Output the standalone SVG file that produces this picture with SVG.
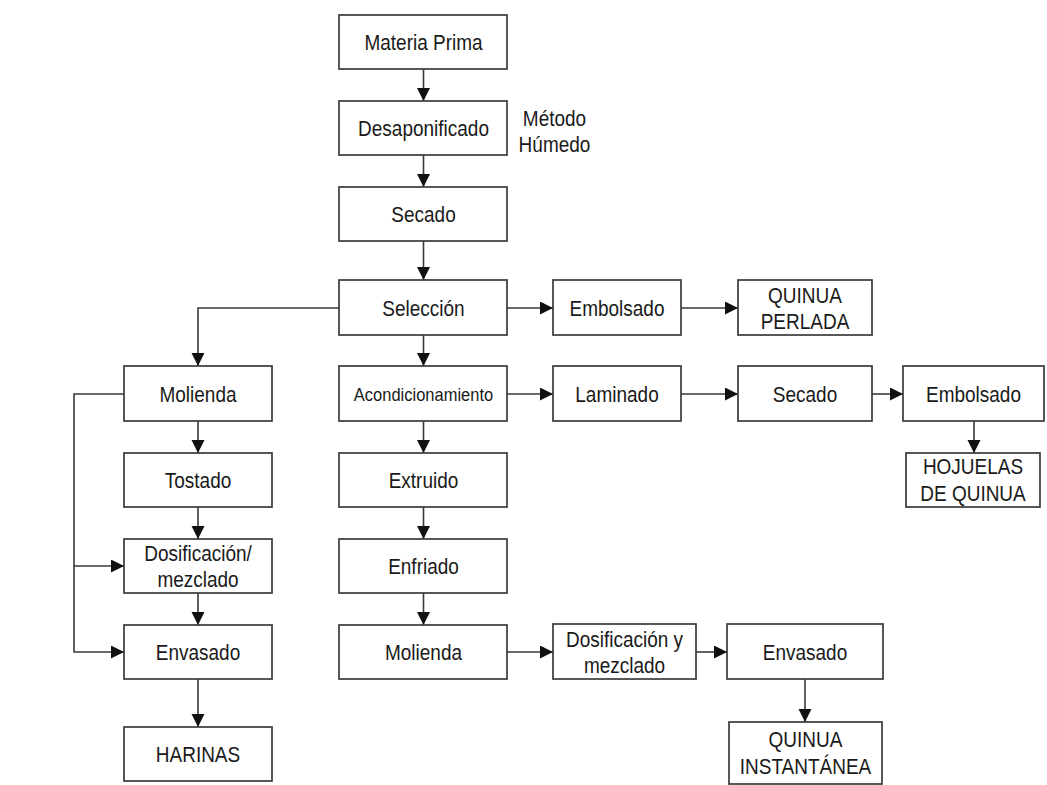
<svg xmlns="http://www.w3.org/2000/svg" width="1047" height="785" viewBox="0 0 1047 785">
<style>
.box{fill:#fff;stroke:#3a3a3a;stroke-width:1.7}
.t{font-family:"Liberation Sans",Arial,sans-serif;font-size:19px;fill:#1a1a1a;text-anchor:middle}
.s{font-size:16.5px}
.c{fill:none;stroke:#3a3a3a;stroke-width:1.6}
</style>
<defs>
<marker id="ah" markerUnits="userSpaceOnUse" markerWidth="14" markerHeight="14" refX="13" refY="6.5" orient="auto">
<path d="M0,0 L13,6.5 L0,13 z" fill="#111"/>
</marker>
</defs>
<rect width="1047" height="785" fill="#fff"/>
<g id="connectors">
<path class="c" d="M423.5,69 V101" marker-end="url(#ah)"/>
<path class="c" d="M423.5,155 V187" marker-end="url(#ah)"/>
<path class="c" d="M423.5,241 V280" marker-end="url(#ah)"/>
<path class="c" d="M423.5,335 V366" marker-end="url(#ah)"/>
<path class="c" d="M423.5,421 V453" marker-end="url(#ah)"/>
<path class="c" d="M423.5,507 V539" marker-end="url(#ah)"/>
<path class="c" d="M423.5,593 V625" marker-end="url(#ah)"/>
<path class="c" d="M339,308 H198 V366" marker-end="url(#ah)"/>
<path class="c" d="M198,421 V453" marker-end="url(#ah)"/>
<path class="c" d="M198,507 V539" marker-end="url(#ah)"/>
<path class="c" d="M198,593 V625" marker-end="url(#ah)"/>
<path class="c" d="M198,679 V727" marker-end="url(#ah)"/>
<path class="c" d="M124,394 H74 V652 H124" marker-end="url(#ah)"/>
<path class="c" d="M74,566 H124" marker-end="url(#ah)"/>
<path class="c" d="M507,308 H553" marker-end="url(#ah)"/>
<path class="c" d="M681,308 H738" marker-end="url(#ah)"/>
<path class="c" d="M507,394 H553" marker-end="url(#ah)"/>
<path class="c" d="M681,394 H738" marker-end="url(#ah)"/>
<path class="c" d="M872,394 H903" marker-end="url(#ah)"/>
<path class="c" d="M974,421 V453" marker-end="url(#ah)"/>
<path class="c" d="M507,652 H553" marker-end="url(#ah)"/>
<path class="c" d="M696,652 H727" marker-end="url(#ah)"/>
<path class="c" d="M805,679 V722" marker-end="url(#ah)"/>
</g>
<g id="materia-prima"><rect class="box" x="339" y="15" width="168" height="54"/><text class="t" transform="translate(423.5 49.5) scale(1 1.12)">Materia Prima</text></g>
<g id="desaponificado"><rect class="box" x="339" y="101" width="168" height="54"/><text class="t" transform="translate(423.5 135.5) scale(1 1.12)">Desaponificado</text></g>
<g id="metodo-humedo"><text class="t" transform="translate(554.5 126) scale(1 1.12)">Método</text><text class="t" transform="translate(554.5 152) scale(1 1.12)">Húmedo</text></g>
<g id="secado"><rect class="box" x="339" y="187" width="168" height="54"/><text class="t" transform="translate(423.5 221.5) scale(1 1.12)">Secado</text></g>
<g id="seleccion"><rect class="box" x="339" y="280" width="168" height="55"/><text class="t" transform="translate(423.5 315.5) scale(1 1.12)">Selección</text></g>
<g id="embolsado1"><rect class="box" x="553" y="280" width="128" height="55"/><text class="t" transform="translate(617 315.5) scale(1 1.12)">Embolsado</text></g>
<g id="quinua-perlada"><rect class="box" x="738" y="280" width="134" height="55"/><text class="t" transform="translate(805 302.5) scale(1 1.12)">QUINUA</text><text class="t" transform="translate(805 328.5) scale(1 1.12)">PERLADA</text></g>
<g id="molienda1"><rect class="box" x="124" y="366" width="148" height="55"/><text class="t" transform="translate(198 401.5) scale(1 1.12)">Molienda</text></g>
<g id="acondicionamiento"><rect class="box" x="339" y="366" width="168" height="55"/><text class="t s" transform="translate(423.5 400.5) scale(1 1.12)">Acondicionamiento</text></g>
<g id="laminado"><rect class="box" x="553" y="366" width="128" height="55"/><text class="t" transform="translate(617 401.5) scale(1 1.12)">Laminado</text></g>
<g id="secado2"><rect class="box" x="738" y="366" width="134" height="55"/><text class="t" transform="translate(805 401.5) scale(1 1.12)">Secado</text></g>
<g id="embolsado2"><rect class="box" x="903" y="366" width="141" height="55"/><text class="t" transform="translate(973.5 401.5) scale(1 1.12)">Embolsado</text></g>
<g id="hojuelas"><rect class="box" x="906" y="453" width="134" height="54"/><text class="t" transform="translate(973 474) scale(1 1.12)">HOJUELAS</text><text class="t" transform="translate(973 500.5) scale(1 1.12)">DE QUINUA</text></g>
<g id="tostado"><rect class="box" x="124" y="453" width="148" height="54"/><text class="t" transform="translate(198 487.5) scale(1 1.12)">Tostado</text></g>
<g id="extruido"><rect class="box" x="339" y="453" width="168" height="54"/><text class="t" transform="translate(423.5 487.5) scale(1 1.12)">Extruido</text></g>
<g id="dosificacion1"><rect class="box" x="124" y="539" width="148" height="54"/><text class="t" transform="translate(198 560.5) scale(1 1.12)">Dosificación/</text><text class="t" transform="translate(198 586.5) scale(1 1.12)">mezclado</text></g>
<g id="enfriado"><rect class="box" x="339" y="539" width="168" height="54"/><text class="t" transform="translate(423.5 573.5) scale(1 1.12)">Enfriado</text></g>
<g id="envasado1"><rect class="box" x="124" y="625" width="148" height="54"/><text class="t" transform="translate(198 659.5) scale(1 1.12)">Envasado</text></g>
<g id="molienda2"><rect class="box" x="339" y="625" width="168" height="54"/><text class="t" transform="translate(423.5 659.5) scale(1 1.12)">Molienda</text></g>
<g id="dosificacion2"><rect class="box" x="553" y="624" width="143" height="55"/><text class="t" transform="translate(624.5 647) scale(1 1.12)">Dosificación y</text><text class="t" transform="translate(624.5 672.5) scale(1 1.12)">mezclado</text></g>
<g id="envasado2"><rect class="box" x="727" y="624" width="156" height="55"/><text class="t" transform="translate(805 659.5) scale(1 1.12)">Envasado</text></g>
<g id="harinas"><rect class="box" x="124" y="727" width="148" height="54"/><text class="t" transform="translate(198 761.5) scale(1 1.12)">HARINAS</text></g>
<g id="quinua-instantanea"><rect class="box" x="729" y="722" width="153" height="62"/><text class="t" transform="translate(805.5 747) scale(1 1.12)">QUINUA</text><text class="t" transform="translate(805.5 773.5) scale(1 1.12)">INSTANTÁNEA</text></g>
</svg>
